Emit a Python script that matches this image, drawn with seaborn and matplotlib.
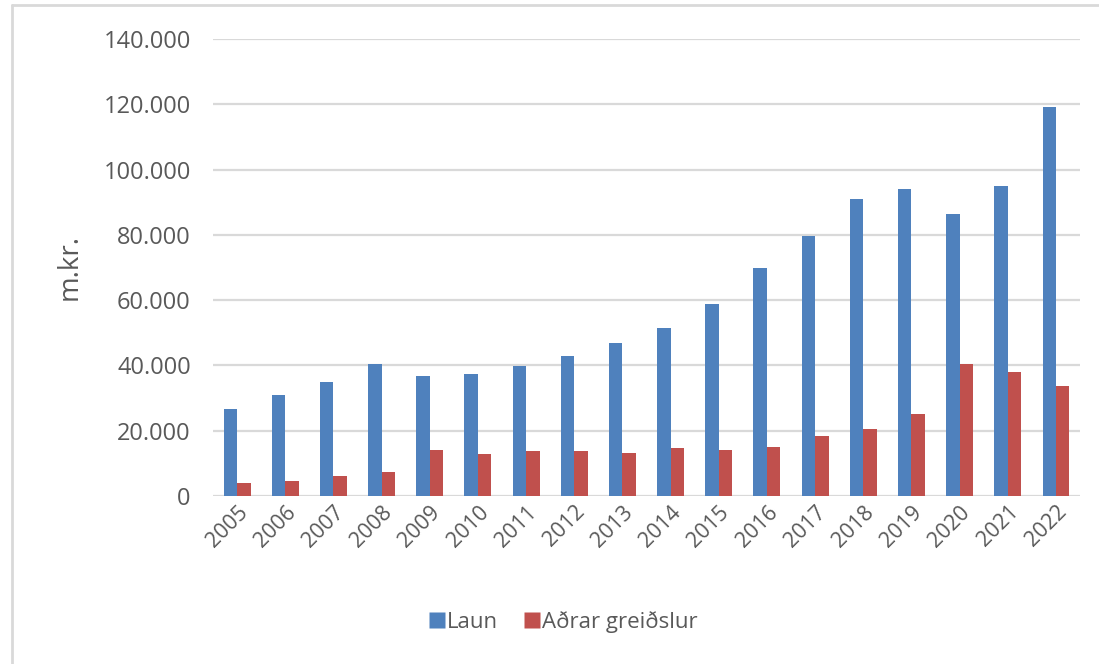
import matplotlib
matplotlib.use("Agg")
import matplotlib.pyplot as plt
import matplotlib.ticker as mticker
from matplotlib.lines import Line2D
import seaborn as sns
import pandas as pd

sns.set_theme(style="white")
plt.rcParams["font.family"] = ["Open Sans", "DejaVu Sans"]

years = [str(y) for y in range(2005, 2023)]
laun = [26800, 30800, 34800, 40300, 36700, 37500, 39800, 43000, 47000,
        51600, 58800, 69800, 79600, 90900, 94000, 86400, 94900, 119300]
adrar = [4100, 4600, 6000, 7400, 14200, 12800, 13700, 13700, 13200,
         14600, 14200, 15100, 18300, 20400, 25000, 40400, 38100, 33600]
series_names = ["Laun", "Aðrar greiðslur"]

BLUE = "#4F81BD"
RED = "#C0504D"
TEXT = "#595959"
GRID = "#D9D9D9"

df = pd.DataFrame({
    "year": years * 2,
    "value": laun + adrar,
    "series": [series_names[0]] * len(years) + [series_names[1]] * len(years),
})

fig = plt.figure(figsize=(10.99, 6.64), dpi=100)
ax = fig.add_axes([0.1938, 0.253, 0.789, 0.6883])

sns.barplot(data=df, x="year", y="value", hue="series",
            palette=[BLUE, RED], saturation=1, width=0.56, gap=0, ax=ax,
            edgecolor="none", legend=False)

ax.set_ylim(0, 140000)
ax.set_xlim(-0.5, len(years) - 0.5)
ax.yaxis.set_major_locator(mticker.MultipleLocator(20000))
ax.yaxis.set_major_formatter(
    mticker.FuncFormatter(lambda v, p: f"{int(v):,}".replace(",", ".")))
ax.set_axisbelow(True)
ax.grid(axis="y", color=GRID, linewidth=1.6)
for s in ax.spines.values():
    s.set_visible(False)

ax.tick_params(axis="y", length=0, pad=16, labelsize=17, labelcolor=TEXT)
ax.tick_params(axis="x", length=0, pad=4, labelsize=15.5, labelcolor=TEXT)
plt.setp(ax.get_xticklabels(), rotation=45, ha="right", rotation_mode="anchor")

ax.set_xlabel("")
ax.set_ylabel("m.kr.", fontsize=20, color=TEXT, labelpad=14)

handles = [Line2D([], [], marker="s", linestyle="none", markersize=11,
                  markerfacecolor=c, markeredgecolor="none")
           for c in (BLUE, RED)]
fig.legend(handles, series_names, loc="center", bbox_to_anchor=(0.512, 0.063),
           ncol=2, frameon=False, fontsize=16, labelcolor=TEXT,
           handletextpad=0.05, columnspacing=1.1, handlelength=0.8)

# chart area frame (top and left edge visible in the cropped reference)
fig.add_artist(Line2D([12 / 1099, 12 / 1099], [0, 1 - 5 / 664],
                      transform=fig.transFigure, color=GRID, linewidth=2))
fig.add_artist(Line2D([12 / 1099, 1], [1 - 5 / 664, 1 - 5 / 664],
                      transform=fig.transFigure, color=GRID, linewidth=2))

fig.savefig("out.png", dpi=100)
plt.close(fig)
